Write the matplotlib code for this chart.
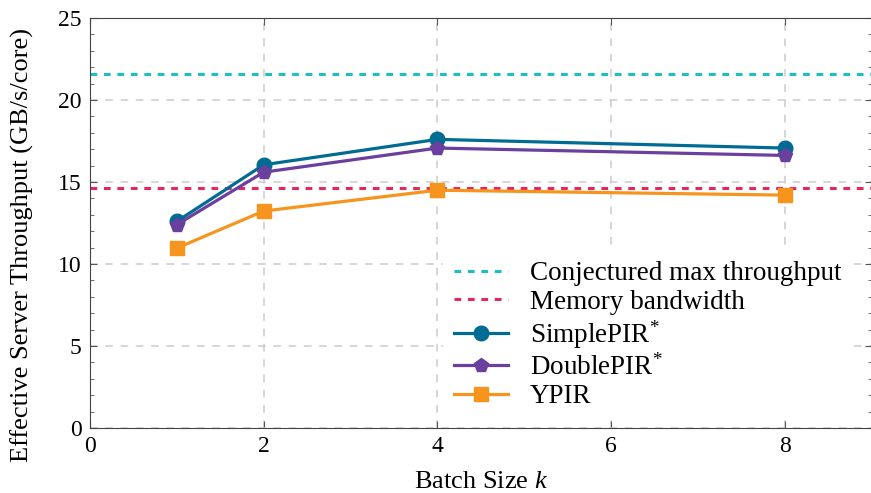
import numpy as np
import matplotlib.pyplot as plt

plt.rcParams['font.family'] = ['Liberation Serif', 'DejaVu Serif']
plt.rcParams['mathtext.fontset'] = 'custom'
plt.rcParams['mathtext.it'] = 'Liberation Serif:italic'
plt.rcParams['mathtext.rm'] = 'Liberation Serif'

# values
batch = [1, 2, 4, 8]
simplepir = [12.6, 16.05, 17.6, 17.07]
doublepir = [12.4, 15.6, 17.07, 16.62]
ypir = [10.97, 13.23, 14.5, 14.2]
conj_max = 21.6
mem_bw = 14.63

fig = plt.figure(figsize=(8.71, 4.93), dpi=100)
ax = fig.add_axes([0.1033, 0.1318, 0.8975, 0.8317])

ax.axhline(conj_max, color='#1bbfc4', ls=(0, (2.2, 2.2)), lw=2.2, label='Conjectured max throughput', zorder=2)
ax.axhline(mem_bw, color='#e8265e', ls=(0, (2.2, 2.2)), lw=2.2, label='Memory bandwidth', zorder=2)
ax.plot(batch, simplepir, color='#006b93', marker='o', ms=10.5, lw=2.3, label='SimplePIR$^{*}$', zorder=4)
ax.plot(batch, doublepir, color='#6a3f9e', marker='p', ms=10.5, lw=2.3, label='DoublePIR$^{*}$', zorder=4)
ax.plot(batch, ypir, color='#f7941d', marker='s', ms=10, lw=2.3, label='YPIR', zorder=4)

ax.set_xlim(0, 9)
ax.set_ylim(0, 25)
ax.set_xticks([0, 2, 4, 6, 8])
ax.set_yticks([0, 5, 10, 15, 20, 25])
ax.set_yticks(np.arange(0, 26, 1), minor=True)
ax.tick_params(which='both', direction='in', top=True, right=True, labelsize=17, colors='#555555', labelcolor='black')
ax.tick_params(which='major', length=5, pad=6)
ax.tick_params(which='minor', length=3)
ax.grid(True, which='major', color='#cccccc', ls=(0, (5, 5)), lw=1.1)
for s in ax.spines.values():
    s.set_color('#444444')

ax.set_xlabel('Batch Size $k$', fontsize=19, labelpad=10)
ax.set_ylabel('Effective Server Throughput (GB/s/core)', fontsize=19)
ax.yaxis.set_label_coords(-0.072, 0.446)

leg = ax.legend(loc='lower right', fontsize=19.5, frameon=True, framealpha=1, edgecolor='white',
                handlelength=2.0, handletextpad=0.8, labelspacing=0.13, borderaxespad=0.3,
                bbox_to_anchor=(0.985, 0.0))
leg.get_frame().set_linewidth(0)

fig.savefig('out.png', dpi=100)
